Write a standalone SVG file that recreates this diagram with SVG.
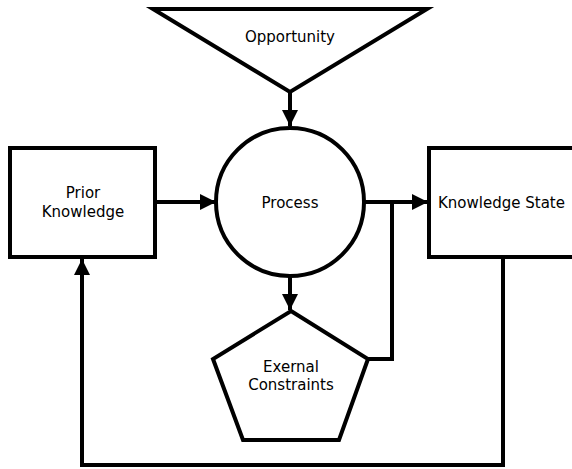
<svg xmlns="http://www.w3.org/2000/svg" width="572" height="469" viewBox="0 0 572 469">
  <style>
    .shape { fill: #ffffff; stroke: #000000; stroke-width: 4; stroke-linejoin: miter; }
    .wire { fill: none; stroke: #000000; stroke-width: 4; }
    .label { font-family: "DejaVu Sans", Verdana, sans-serif; font-size: 15px; fill: #000000; }
    .mid { text-anchor: middle; }
  </style>
  <defs>
    <marker id="arrow" viewBox="0 0 10 10" refX="10" refY="5" markerWidth="5" markerHeight="4" markerUnits="strokeWidth" orient="auto">
      <path d="M0,0 L10,5 L0,10 z" fill="#000000"/>
    </marker>
  </defs>

  <rect width="572" height="469" fill="#ffffff"/>

  <!-- connectors -->
  <g id="connectors">
    <path class="wire" d="M290,92 L290,126" marker-end="url(#arrow)"/>
    <path class="wire" d="M155,202 L216,202" marker-end="url(#arrow)"/>
    <path class="wire" d="M364,202 L428,202" marker-end="url(#arrow)"/>
    <path class="wire" d="M368,359 L392,359 L392,202"/>
    <path class="wire" d="M290,276 L290,310" marker-end="url(#arrow)"/>
    <path class="wire" d="M503,257 L503,465 L82,465 L82,259" marker-end="url(#arrow)"/>
  </g>

  <g id="opportunity">
    <polygon class="shape" points="153,9 427,9 290,92"/>
    <text class="label mid" x="290" y="42">Opportunity</text>
  </g>

  <g id="process">
    <circle class="shape" cx="290" cy="202" r="74"/>
    <text class="label mid" x="290" y="208">Process</text>
  </g>

  <g id="prior-knowledge">
    <rect class="shape" x="10" y="148" width="145" height="109"/>
    <text class="label mid" x="83" y="198">Prior</text>
    <text class="label mid" x="83" y="217">Knowledge</text>
  </g>

  <g id="knowledge-state">
    <rect class="shape" x="429" y="148" width="160" height="109"/>
    <text class="label" x="438" y="208">Knowledge State</text>
  </g>

  <g id="external-constraints">
    <polygon class="shape" points="291,311 368,359 339,440 243,440 213,359"/>
    <text class="label mid" x="291" y="372">Exernal</text>
    <text class="label mid" x="291" y="390">Constraints</text>
  </g>
</svg>
